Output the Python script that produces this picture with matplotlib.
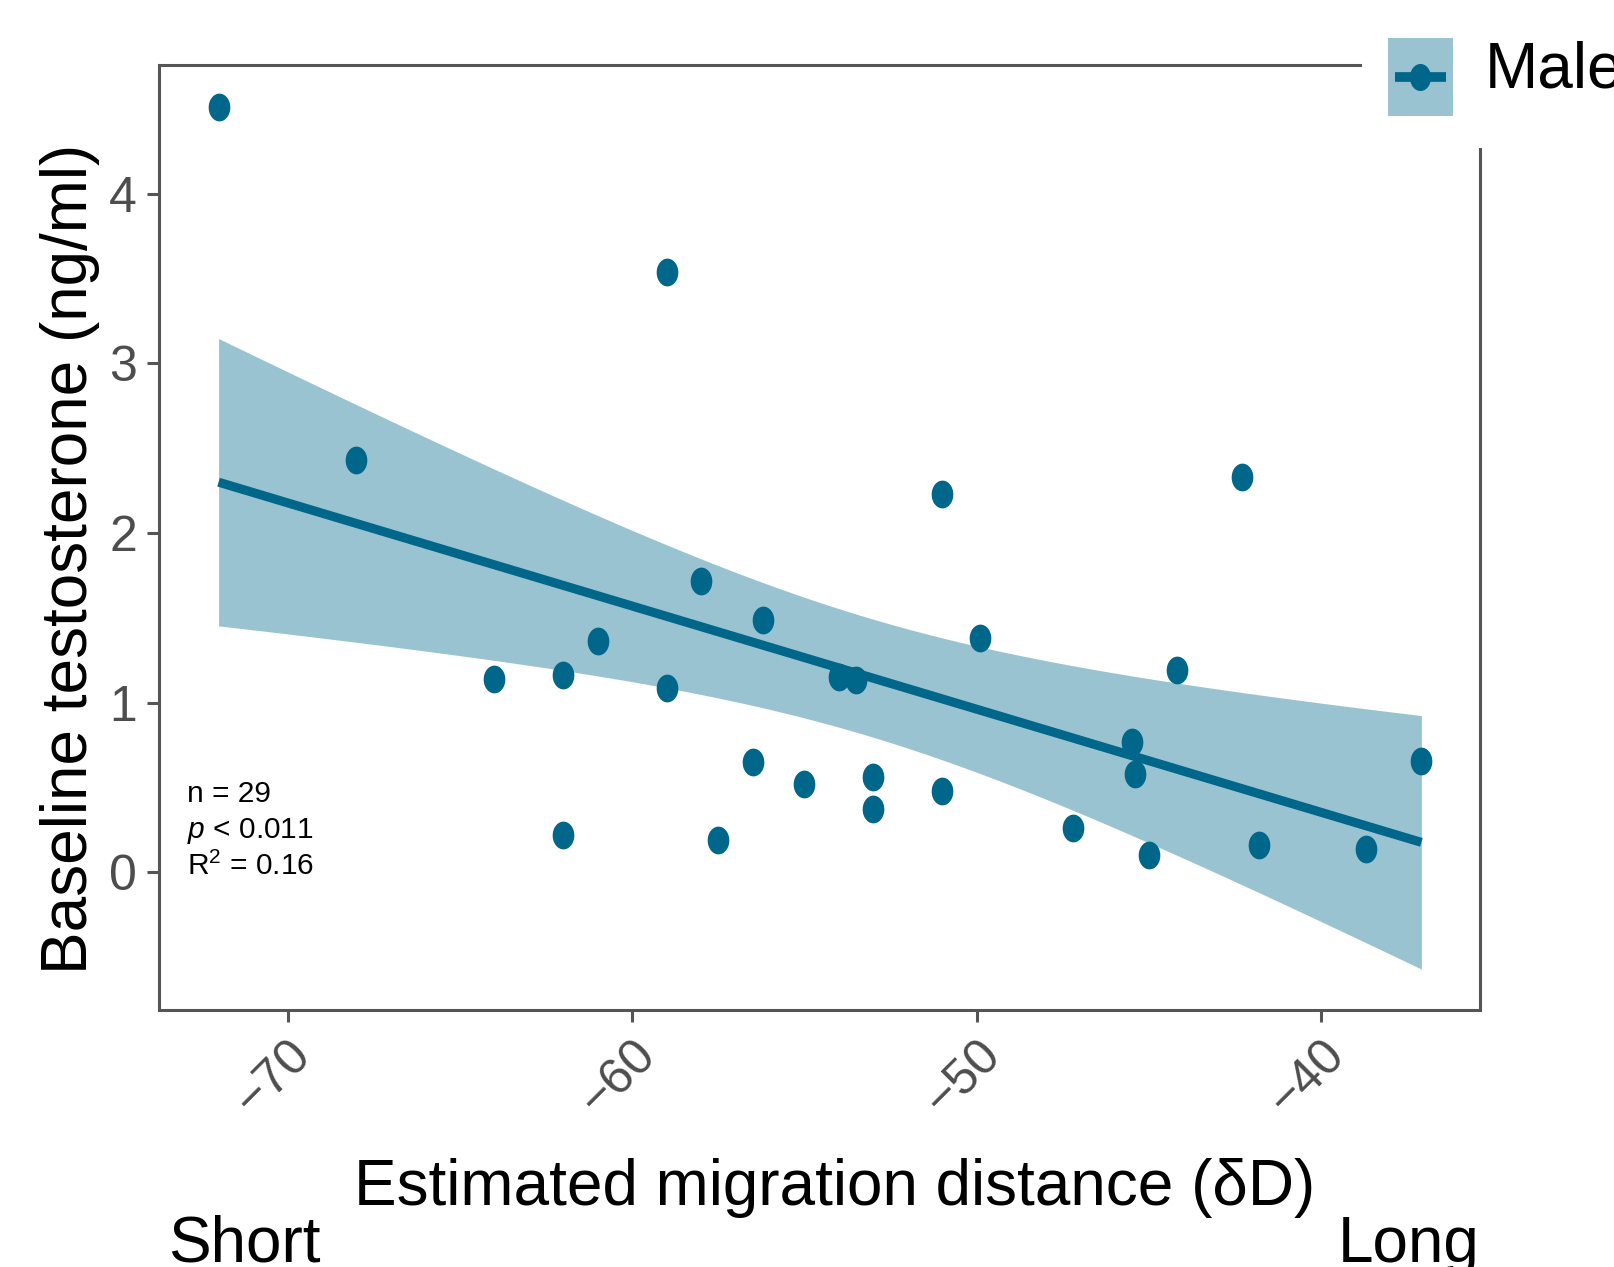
import numpy as np
import matplotlib
matplotlib.use("Agg")
from matplotlib import pyplot as plt
from matplotlib.path import Path
from matplotlib.patches import Patch, Rectangle
from matplotlib.lines import Line2D

plt.rcParams['font.family'] = ['Liberation Sans', 'DejaVu Sans']
plt.rcParams['mathtext.fontset'] = 'custom'
plt.rcParams['mathtext.rm'] = 'Liberation Sans'
plt.rcParams['mathtext.it'] = 'Liberation Sans:italic'

# estimated migration distance (dD) and baseline testosterone, males
dD = [-72.0, -68.0, -59.0, -64.0, -62.0, -62.0, -61.0, -59.0, -58.0, -57.5,
      -56.5, -56.2, -55.0, -54.0, -53.5, -53.0, -53.0, -51.0, -51.0, -49.9,
      -47.2, -45.5, -45.4, -45.0, -44.2, -42.3, -41.8, -38.7, -37.1]
testo = [4.51, 2.43, 3.54, 1.14, 1.165, 0.22, 1.365, 1.086, 1.72, 0.19,
         0.65, 1.49, 0.52, 1.15, 1.135, 0.56, 0.376, 2.23, 0.48, 1.38,
         0.26, 0.77, 0.58, 0.10, 1.195, 2.33, 0.16, 0.14, 0.655]
xticks = [-70, -60, -50, -40]
yticks = [0, 1, 2, 3, 4]
stats_lines = ["n = 29", r"$\mathit{p}$ < 0.011", r"R$^2$ = 0.16"]

dark = '#00668A'
band = '#9AC3D1'
grey = '#4D4D4D'

x = np.array(dD)
y = np.array(testo)
n = len(x)

# linear fit with 95% confidence band (like geom_smooth(method = "lm"))
slope, icept = np.polyfit(x, y, 1)
xs = np.linspace(x.min(), x.max(), 200)
yfit = icept + slope * xs
resid = y - (icept + slope * x)
s = np.sqrt(np.sum(resid ** 2) / (n - 2))
sxx = np.sum((x - x.mean()) ** 2)
tval = 2.052  # t(0.975, df=27)
se = s * np.sqrt(1.0 / n + (xs - x.mean()) ** 2 / sxx)

# slightly tall ellipse marker
t = np.linspace(0, 2 * np.pi, 60)
ell = Path(np.column_stack([0.78 * np.cos(t), np.sin(t)]))


class KeyHandler:
    # ggplot style key: filled square with the line + point on top
    def legend_artist(self, legend, orig_handle, fontsize, handlebox):
        fs = fontsize
        w = handlebox.width
        tr = handlebox.get_transform()
        rect = Rectangle((0, -0.45 * fs), w, 1.22 * fs, facecolor=band,
                         edgecolor='none', transform=tr)
        handlebox.add_artist(rect)
        ln = Line2D([0.11 * fs, w - 0.1 * fs], [0.16 * fs, 0.16 * fs], color=dark,
                    lw=7, solid_capstyle='butt', transform=tr)
        handlebox.add_artist(ln)
        pt = Line2D([w / 2], [0.16 * fs], ls='none', marker=ell, ms=19.5,
                    color=dark, mew=0, transform=tr)
        handlebox.add_artist(pt)
        return rect


fig = plt.figure(figsize=(16.15, 12.67), dpi=100)
ax = fig.add_axes([158.6 / 1615, 1 - 1010.4 / 1267,
                   (1480 - 158.6) / 1615, (1010.4 - 64.9) / 1267])

ax.fill_between(xs, yfit - tval * se, yfit + tval * se, color=band, lw=0, zorder=1)
ax.plot(xs, yfit, color=dark, lw=6.5, solid_capstyle='butt', zorder=2)
ax.plot(x, y, ls='none', marker=ell, ms=20, color=dark, mew=0, zorder=3)

ax.set_xlim(-73.74, -35.40)
ax.set_ylim(-0.813, 4.758)
ax.set_xticks(xticks)
ax.set_yticks(yticks)

for sp in ax.spines.values():
    sp.set_color('#555555')
    sp.set_linewidth(2.2)
ax.tick_params(length=8.5, width=2.2, color='#555555', labelcolor=grey,
               labelsize=36, pad=7)
for lab in ax.get_xticklabels():
    lab.set_rotation(45)
    lab.set_ha('right')
    lab.set_va('top')
    lab.set_rotation_mode('anchor')

fig.text(70 / 1615, 1 - 559 / 1267, "Baseline testosterone (ng/ml)",
         rotation=90, ha='center', va='center', fontsize=46)
fig.text(835 / 1615, 1 - 1205 / 1267, "Estimated migration distance (\u03b4D)",
         ha='center', va='baseline', fontsize=46)
fig.text(168 / 1615, 1 - 1262 / 1267, "Short", ha='left', va='baseline', fontsize=46)
fig.text(1480 / 1615, 1 - 1262 / 1267, "Long", ha='right', va='baseline', fontsize=46)

for i, line in enumerate(stats_lines):
    fig.text(187 / 1615, 1 - (802 + 36.5 * i) / 1267, line,
             ha='left', va='baseline', fontsize=21.5)

key = Patch(facecolor=band)
leg = fig.legend([key], ['Male'], handler_map={Patch: KeyHandler()},
                 loc='lower left', bbox_to_anchor=(1362 / 1615, 1 - 148 / 1267),
                 borderaxespad=0, fontsize=46, frameon=True, facecolor='white',
                 edgecolor='none', framealpha=1, fancybox=False,
                 handlelength=1.02, handleheight=2.27, handletextpad=0.5)

fig.savefig('out.png', dpi=100)
